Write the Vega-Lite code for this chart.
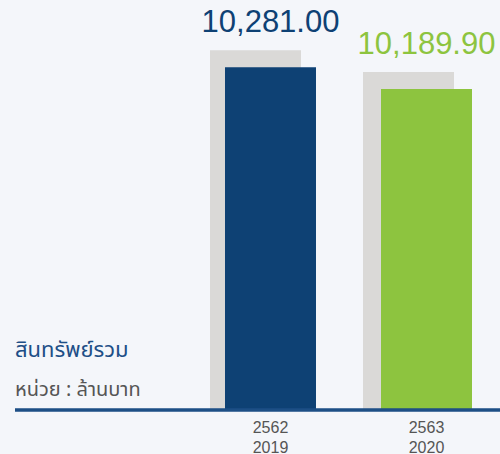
{
 "$schema": "https://vega.github.io/schema/vega-lite/v6.json",
 "width": 485,
 "height": 410,
 "padding": {"left": 15, "top": 0, "right": 0, "bottom": 44},
 "autosize": {"type": "none"},
 "background": "#f4f6fa",
 "config": {"view": {"stroke": null}},
 "title": {
  "text": "สินทรัพย์รวม",
  "subtitle": "หน่วย : ล้านบาท",
  "orient": "bottom",
  "anchor": "start",
  "frame": "group",
  "offset": -115,
  "font": "Noto Sans Thai, Noto Sans, sans-serif",
  "fontSize": 22,
  "fontWeight": "normal",
  "color": "#1e4f87",
  "subtitleFont": "Noto Sans Thai, Noto Sans, sans-serif",
  "subtitleFontSize": 20,
  "subtitleColor": "#555555",
  "subtitlePadding": 18
 },
 "data": {"values": [
  {"year": "2562 2019", "value": 10281.00, "label": "10,281.00"},
  {"year": "2563 2020", "value": 10189.90, "label": "10,189.90"}
 ]},
 "layer": [
  {
   "mark": {"type": "bar", "color": "#dad9d7", "xOffset": {"expr": "datum.year == '2562 2019' ? -15 : -18"}, "yOffset": -17, "y2Offset": 0},
   "encoding": {
    "x": {
     "field": "year", "type": "nominal", "sort": null,
     "scale": {"range": [177.5, 489.5], "paddingInner": 0.4167, "paddingOuter": 0.2083},
     "axis": {"title": null, "domain": false, "ticks": false, "labelAngle": 0, "labelExpr": "split(datum.value, ' ')", "labelFont": "Liberation Sans", "labelFontSize": 16, "labelColor": "#555555", "labelPadding": 9, "labelLineHeight": 20}
    },
    "y": {"field": "value", "type": "quantitative", "scale": {"domain": [8861, 10559], "zero": false, "nice": false}, "axis": null},
    "y2": {"datum": 8861}
   }
  },
  {
   "mark": {"type": "bar"},
   "encoding": {
    "x": {"field": "year", "type": "nominal", "sort": null},
    "y": {"field": "value", "type": "quantitative", "scale": {"domain": [8861, 10559], "zero": false, "nice": false}, "axis": null},
    "y2": {"datum": 8861},
    "color": {"field": "year", "type": "nominal", "scale": {"domain": ["2562 2019", "2563 2020"], "range": ["#0e4174", "#8dc43f"]}, "legend": null}
   }
  },
  {
   "mark": {"type": "text", "dy": -35, "baseline": "alphabetic", "fontSize": 31, "font": "Liberation Sans"},
   "encoding": {
    "x": {"field": "year", "type": "nominal", "sort": null},
    "y": {"field": "value", "type": "quantitative", "scale": {"domain": [8861, 10559], "zero": false, "nice": false}, "axis": null},
    "text": {"field": "label"},
    "color": {"field": "year", "type": "nominal", "scale": {"domain": ["2562 2019", "2563 2020"], "range": ["#0e4174", "#8dc43f"]}, "legend": null}
   }
  },
  {
   "mark": {"type": "rule", "color": "#1d4f85", "strokeWidth": 3},
   "encoding": {"y": {"datum": 8861}}
  }
 ]
}
